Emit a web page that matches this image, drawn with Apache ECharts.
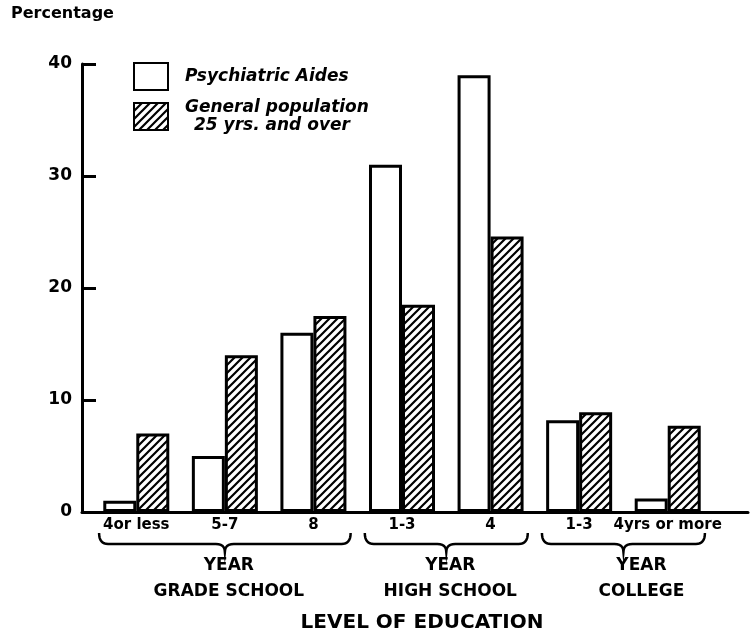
<!DOCTYPE html>
<html>
<head>
<meta charset="utf-8">
<script src="https://cdn.jsdelivr.net/npm/echarts@6/dist/echarts.min.js"></script>
<style>html,body{margin:0;padding:0;background:#fff;}#c{width:753px;height:634px;}</style>
</head>
<body>
<div id="c"></div>
<script>
// ---- data ----
const categories = ['4or less', '5-7', '8', '1-3', '4', '1-3', '4yrs or more'];
const aides = [1, 5, 16, 31, 39, 8.2, 1.2];
const generalPop = [7, 14, 17.5, 18.5, 24.6, 8.9, 7.7];
const seriesNames = ['Psychiatric Aides', 'General population 25 yrs. and over'];
const yTicks = [0, 10, 20, 30, 40];
const groupNames = ['GRADE SCHOOL', 'HIGH SCHOOL', 'COLLEGE'];
const groupStart = [0, 3, 5];
const groupEnd = [2, 4, 6];
const groupUnit = 'YEAR';
const yTitle = 'Percentage';
const xTitle = 'LEVEL OF EDUCATION';

// hatch pattern
function hatch() {
  const s = 8;
  const c = document.createElement('canvas');
  c.width = s; c.height = s;
  const g = c.getContext('2d');
  g.fillStyle = '#fff'; g.fillRect(0, 0, s, s);
  g.strokeStyle = '#000'; g.lineWidth = 2.2; g.lineCap = 'square';
  g.beginPath();
  g.moveTo(0, s); g.lineTo(s, 0);
  g.moveTo(-1, 1); g.lineTo(1, -1);
  g.moveTo(s - 1, s + 1); g.lineTo(s + 1, s - 1);
  g.stroke();
  return c;
}

const FONT = 'DejaVu Sans';
const chart = echarts.init(document.getElementById('c'), null, {renderer: 'canvas'});
const GRID_TOP = 64, GRID_BOTTOM = 122;
chart.setOption({
  animation: false,
  backgroundColor: '#fff',
  title: {
    text: yTitle, left: 6, top: 1,
    textStyle: {fontFamily: FONT, fontWeight: 'bold', fontSize: 16, color: '#000'}
  },
  legend: {
    orient: 'vertical', left: 128, top: 57, itemWidth: 34, itemHeight: 27, itemGap: 8,
    selectedMode: false, icon: 'rect',
    formatter: function (n) {
      if (n === seriesNames[1]) return '{a|General population}\n{b|25 yrs. and over}';
      return '{a|' + n + '}';
    },
    textStyle: {
      fontFamily: FONT, fontStyle: 'italic', fontWeight: 'bold', fontSize: 17, color: '#000',
      padding: [0, 0, 0, 12],
      rich: {
        a: {fontFamily: FONT, fontStyle: 'italic', fontWeight: 'bold', fontSize: 17, color: '#000', lineHeight: 18},
        b: {fontFamily: FONT, fontStyle: 'italic', fontWeight: 'bold', fontSize: 17, color: '#000', lineHeight: 18, padding: [0, 0, 0, 9]}
      }
    },
    data: seriesNames
  },
  grid: [
    {left: 92, right: 41, top: GRID_TOP, bottom: GRID_BOTTOM},
    {left: 82, right: 5, top: GRID_TOP, bottom: GRID_BOTTOM}
  ],
  xAxis: [
    {
      type: 'category', gridIndex: 0, data: categories,
      axisLine: {show: false}, axisTick: {show: false},
      axisLabel: {fontFamily: FONT, fontWeight: 'bold', fontSize: 15, color: '#000', margin: 6, interval: 0}
    },
    {
      type: 'value', gridIndex: 1, min: 0, max: 1,
      axisLine: {show: true, lineStyle: {color: '#000', width: 3}},
      axisTick: {show: false}, axisLabel: {show: false}, splitLine: {show: false}
    }
  ],
  yAxis: [
    {type: 'value', gridIndex: 0, min: yTicks[0], max: yTicks[yTicks.length - 1], interval: 10, show: false},
    {
      type: 'value', gridIndex: 1, min: yTicks[0], max: yTicks[yTicks.length - 1], interval: 10,
      axisLine: {show: true, lineStyle: {color: '#000', width: 3}},
      axisTick: {show: true, inside: true, length: 14, lineStyle: {color: '#000', width: 3}},
      axisLabel: {fontFamily: FONT, fontWeight: 'bold', fontSize: 17, color: '#000', margin: 10},
      splitLine: {show: false}
    }
  ],
  series: [
    {
      name: seriesNames[0], type: 'bar', xAxisIndex: 0, yAxisIndex: 0, data: aides,
      barWidth: 33, barGap: '0%',
      itemStyle: {color: '#fff', borderColor: '#000', borderWidth: 3}
    },
    {
      name: seriesNames[1], type: 'bar', xAxisIndex: 0, yAxisIndex: 0, data: generalPop,
      barWidth: 33, barGap: '0%',
      itemStyle: {color: {image: hatch(), repeat: 'repeat'}, borderColor: '#000', borderWidth: 3}
    }
  ]
});

// group braces and labels, placed from the axis scale
function quad(p0, p1, p2, n) {
  const pts = [];
  for (let k = 0; k <= n; k++) {
    const t = k / n, u = 1 - t;
    pts.push([u * u * p0[0] + 2 * u * t * p1[0] + t * t * p2[0],
              u * u * p0[1] + 2 * u * t * p1[1] + t * t * p2[1]]);
  }
  return pts;
}
const y0 = chart.convertToPixel({yAxisIndex: 0}, 0);
const band = chart.convertToPixel({xAxisIndex: 0}, 1) - chart.convertToPixel({xAxisIndex: 0}, 0);
const graphics = [];
const by = y0 + 32;
for (let i = 0; i < groupNames.length; i++) {
  const xs = chart.convertToPixel({xAxisIndex: 0}, groupStart[i]);
  const xe = chart.convertToPixel({xAxisIndex: 0}, groupEnd[i]);
  const x1 = xs - band * 0.42, x2 = xe + band * 0.42;
  const xm = (xs + xe) / 2;
  let pts = [];
  pts = pts.concat(quad([x1, by - 11], [x1, by], [x1 + 9, by], 8));
  pts = pts.concat(quad([xm - 9, by], [xm, by], [xm, by + 8], 6));
  pts = pts.concat(quad([xm, by + 8], [xm, by], [xm + 9, by], 6));
  pts = pts.concat(quad([x2 - 9, by], [x2, by], [x2, by - 11], 8));
  graphics.push({
    type: 'polyline', shape: {points: pts},
    style: {fill: null, stroke: '#000', lineWidth: 2.5}
  });
  const tx = xm + (i === groupNames.length - 1 ? 18 : 4);
  graphics.push({
    type: 'text', x: tx, y: by + 22,
    style: {text: groupUnit, fontFamily: FONT, fontWeight: 'bold', fontSize: 17, fill: '#000', align: 'center', verticalAlign: 'middle'}
  });
  graphics.push({
    type: 'text', x: tx, y: by + 48,
    style: {text: groupNames[i], fontFamily: FONT, fontWeight: 'bold', fontSize: 17, fill: '#000', align: 'center', verticalAlign: 'middle'}
  });
}
const xc = (chart.convertToPixel({xAxisIndex: 0}, 0) + chart.convertToPixel({xAxisIndex: 0}, categories.length - 1)) / 2 + 20;
graphics.push({
  type: 'text', x: xc, y: by + 79,
  style: {text: xTitle, fontFamily: FONT, fontWeight: 'bold', fontSize: 20, fill: '#000', align: 'center', verticalAlign: 'middle'}
});
chart.setOption({graphic: graphics});
</script>
</body>
</html>
